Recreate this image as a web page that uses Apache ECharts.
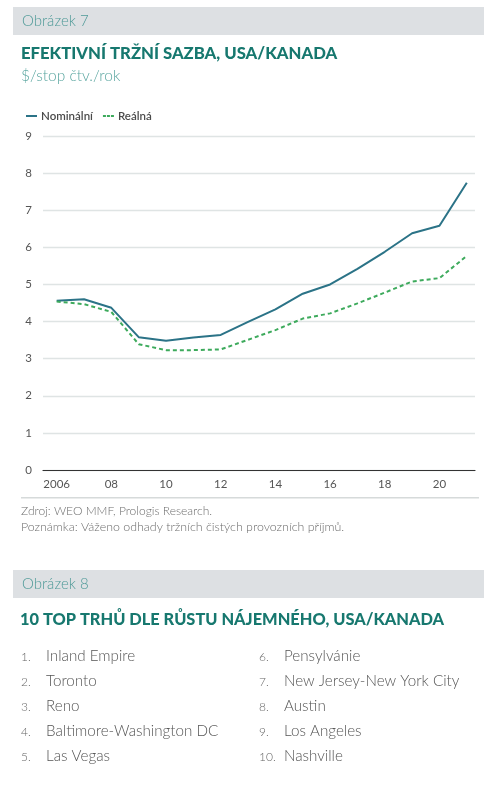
<!DOCTYPE html>
<html>
<head>
<meta charset="utf-8">
<script src="https://cdn.jsdelivr.net/npm/echarts@6/dist/echarts.min.js"></script>
<style>
html,body{margin:0;padding:0;background:#fff;}
#c{width:498px;height:804px;}
</style>
</head>
<body>
<div id="c"></div>
<script>
var years = [2006,2007,2008,2009,2010,2011,2012,2013,2014,2015,2016,2017,2018,2019,2020,2021];
var nominal = [4.56,4.60,4.37,3.58,3.48,3.57,3.64,3.99,4.33,4.75,5.00,5.42,5.88,6.38,6.58,7.74];
var real = [4.54,4.47,4.26,3.39,3.23,3.23,3.25,3.51,3.77,4.08,4.22,4.49,4.78,5.08,5.17,5.77];
var xTickLabels = [2006,2008,2010,2012,2014,2016,2018,2020];
var seriesNames = ['Nominální','Reálná'];
var fig7Label = 'Obrázek 7';
var fig7Title = 'EFEKTIVNÍ TRŽNÍ SAZBA, USA/KANADA';
var fig7Unit = '$/stop čtv./rok';
var sourceNote = 'Zdroj: WEO MMF, Prologis Research.';
var remarkNote = 'Poznámka: Váženo odhady tržních čistých provozních příjmů.';
var fig8Label = 'Obrázek 8';
var fig8Title = '10 TOP TRHŮ DLE RŮSTU NÁJEMNÉHO, USA/KANADA';
var markets = ['Inland Empire','Toronto','Reno','Baltimore-Washington DC','Las Vegas','Pensylvánie','New Jersey-New York City','Austin','Los Angeles','Nashville'];

var FONT = 'Lato, "Open Sans", sans-serif';
var chart = echarts.init(document.getElementById('c'), null, {renderer:'canvas'});

var graphics = [
  {type:'rect', shape:{x:13,y:7,width:471,height:28}, style:{fill:'#dde0e3'}},
  {type:'text', x:22, y:21, style:{text:fig7Label, fill:'#4f9a98', font:'300 15px '+FONT, verticalAlign:'middle'}},
  {type:'text', x:21, y:54, style:{text:fig7Title, fill:'#17786f', font:'900 16.7px '+FONT, verticalAlign:'middle'}},
  {type:'text', x:21, y:76, style:{text:fig7Unit, fill:'#5aa6a0', font:'300 15.5px '+FONT, verticalAlign:'middle'}},
  {type:'rect', shape:{x:21,y:497,width:458,height:1.5}, style:{fill:'#d6dada'}},
  {type:'text', x:21, y:511, style:{text:sourceNote, fill:'#6d6d6d', font:'300 12px '+FONT, verticalAlign:'middle'}},
  {type:'text', x:21, y:527, style:{text:remarkNote, fill:'#6d6d6d', font:'300 12.4px '+FONT, verticalAlign:'middle'}},
  {type:'rect', shape:{x:13,y:570,width:471,height:28}, style:{fill:'#dde0e3'}},
  {type:'text', x:22, y:584, style:{text:fig8Label, fill:'#4f9a98', font:'300 15px '+FONT, verticalAlign:'middle'}},
  {type:'text', x:20, y:620, style:{text:fig8Title, fill:'#17786f', font:'900 16.4px '+FONT, verticalAlign:'middle'}}
];
var rowY = [656,681,706,731,756];
markets.forEach(function(m,i){
  var col = Math.floor(i/5), row = i%5;
  var nx = col===0 ? 21 : 259;
  var tx = col===0 ? 46 : 284;
  graphics.push({type:'text', x:nx, y:rowY[row]+1, style:{text:(i+1)+'.', fill:'#666', font:'300 12px '+FONT, verticalAlign:'middle'}});
  graphics.push({type:'text', x:tx, y:rowY[row], style:{text:m, fill:'#555', font:'300 15.2px '+FONT, verticalAlign:'middle'}});
});

chart.setOption({
  backgroundColor:'#fff',
  animation:false,
  textStyle:{fontFamily:FONT},
  legend:{
    left:21, top:105, itemWidth:11, itemHeight:2, itemGap:10,
    data:[
      {name:seriesNames[0], icon:'rect'},
      {name:seriesNames[1], icon:'path://M0,0h3v2h-3z M4,0h3v2h-3z M8,0h3v2h-3z'}
    ],
    textStyle:{color:'#4a4a4a', fontSize:11.5, fontWeight:600, fontFamily:FONT, padding:[0,0,0,-1]}
  },
  grid:{left:43, right:23, top:136, bottom:334, containLabel:false},
  xAxis:{
    type:'value', min:2005.5, max:2021.3,
    axisLine:{show:true, onZero:false, lineStyle:{color:'#333', width:1.2}},
    axisTick:{show:false},
    splitLine:{show:false},
    axisLabel:{customValues:xTickLabels, color:'#555', fontSize:11.5, margin:8,
      formatter:function(v){ return v===2006 ? '2006' : String(v).slice(2); }}
  },
  yAxis:{
    type:'value', min:0, max:9, interval:1,
    axisLine:{show:false}, axisTick:{show:false},
    splitLine:{lineStyle:{color:'#dfe4e4', width:1.3}},
    axisLabel:{color:'#555', fontSize:11.5, margin:11}
  },
  series:[
    {name:seriesNames[0], type:'line', data:years.map(function(y,i){return [y,nominal[i]];}),
     showSymbol:false, symbol:'none', lineStyle:{color:'#2b7387', width:2}, itemStyle:{color:'#2b7387'}},
    {name:seriesNames[1], type:'line', data:years.map(function(y,i){return [y,real[i]];}),
     showSymbol:false, symbol:'none', lineStyle:{color:'#3daa5c', width:2, type:[4,3]}, itemStyle:{color:'#3daa5c'}}
  ],
  graphic:graphics
});
</script>
</body>
</html>
